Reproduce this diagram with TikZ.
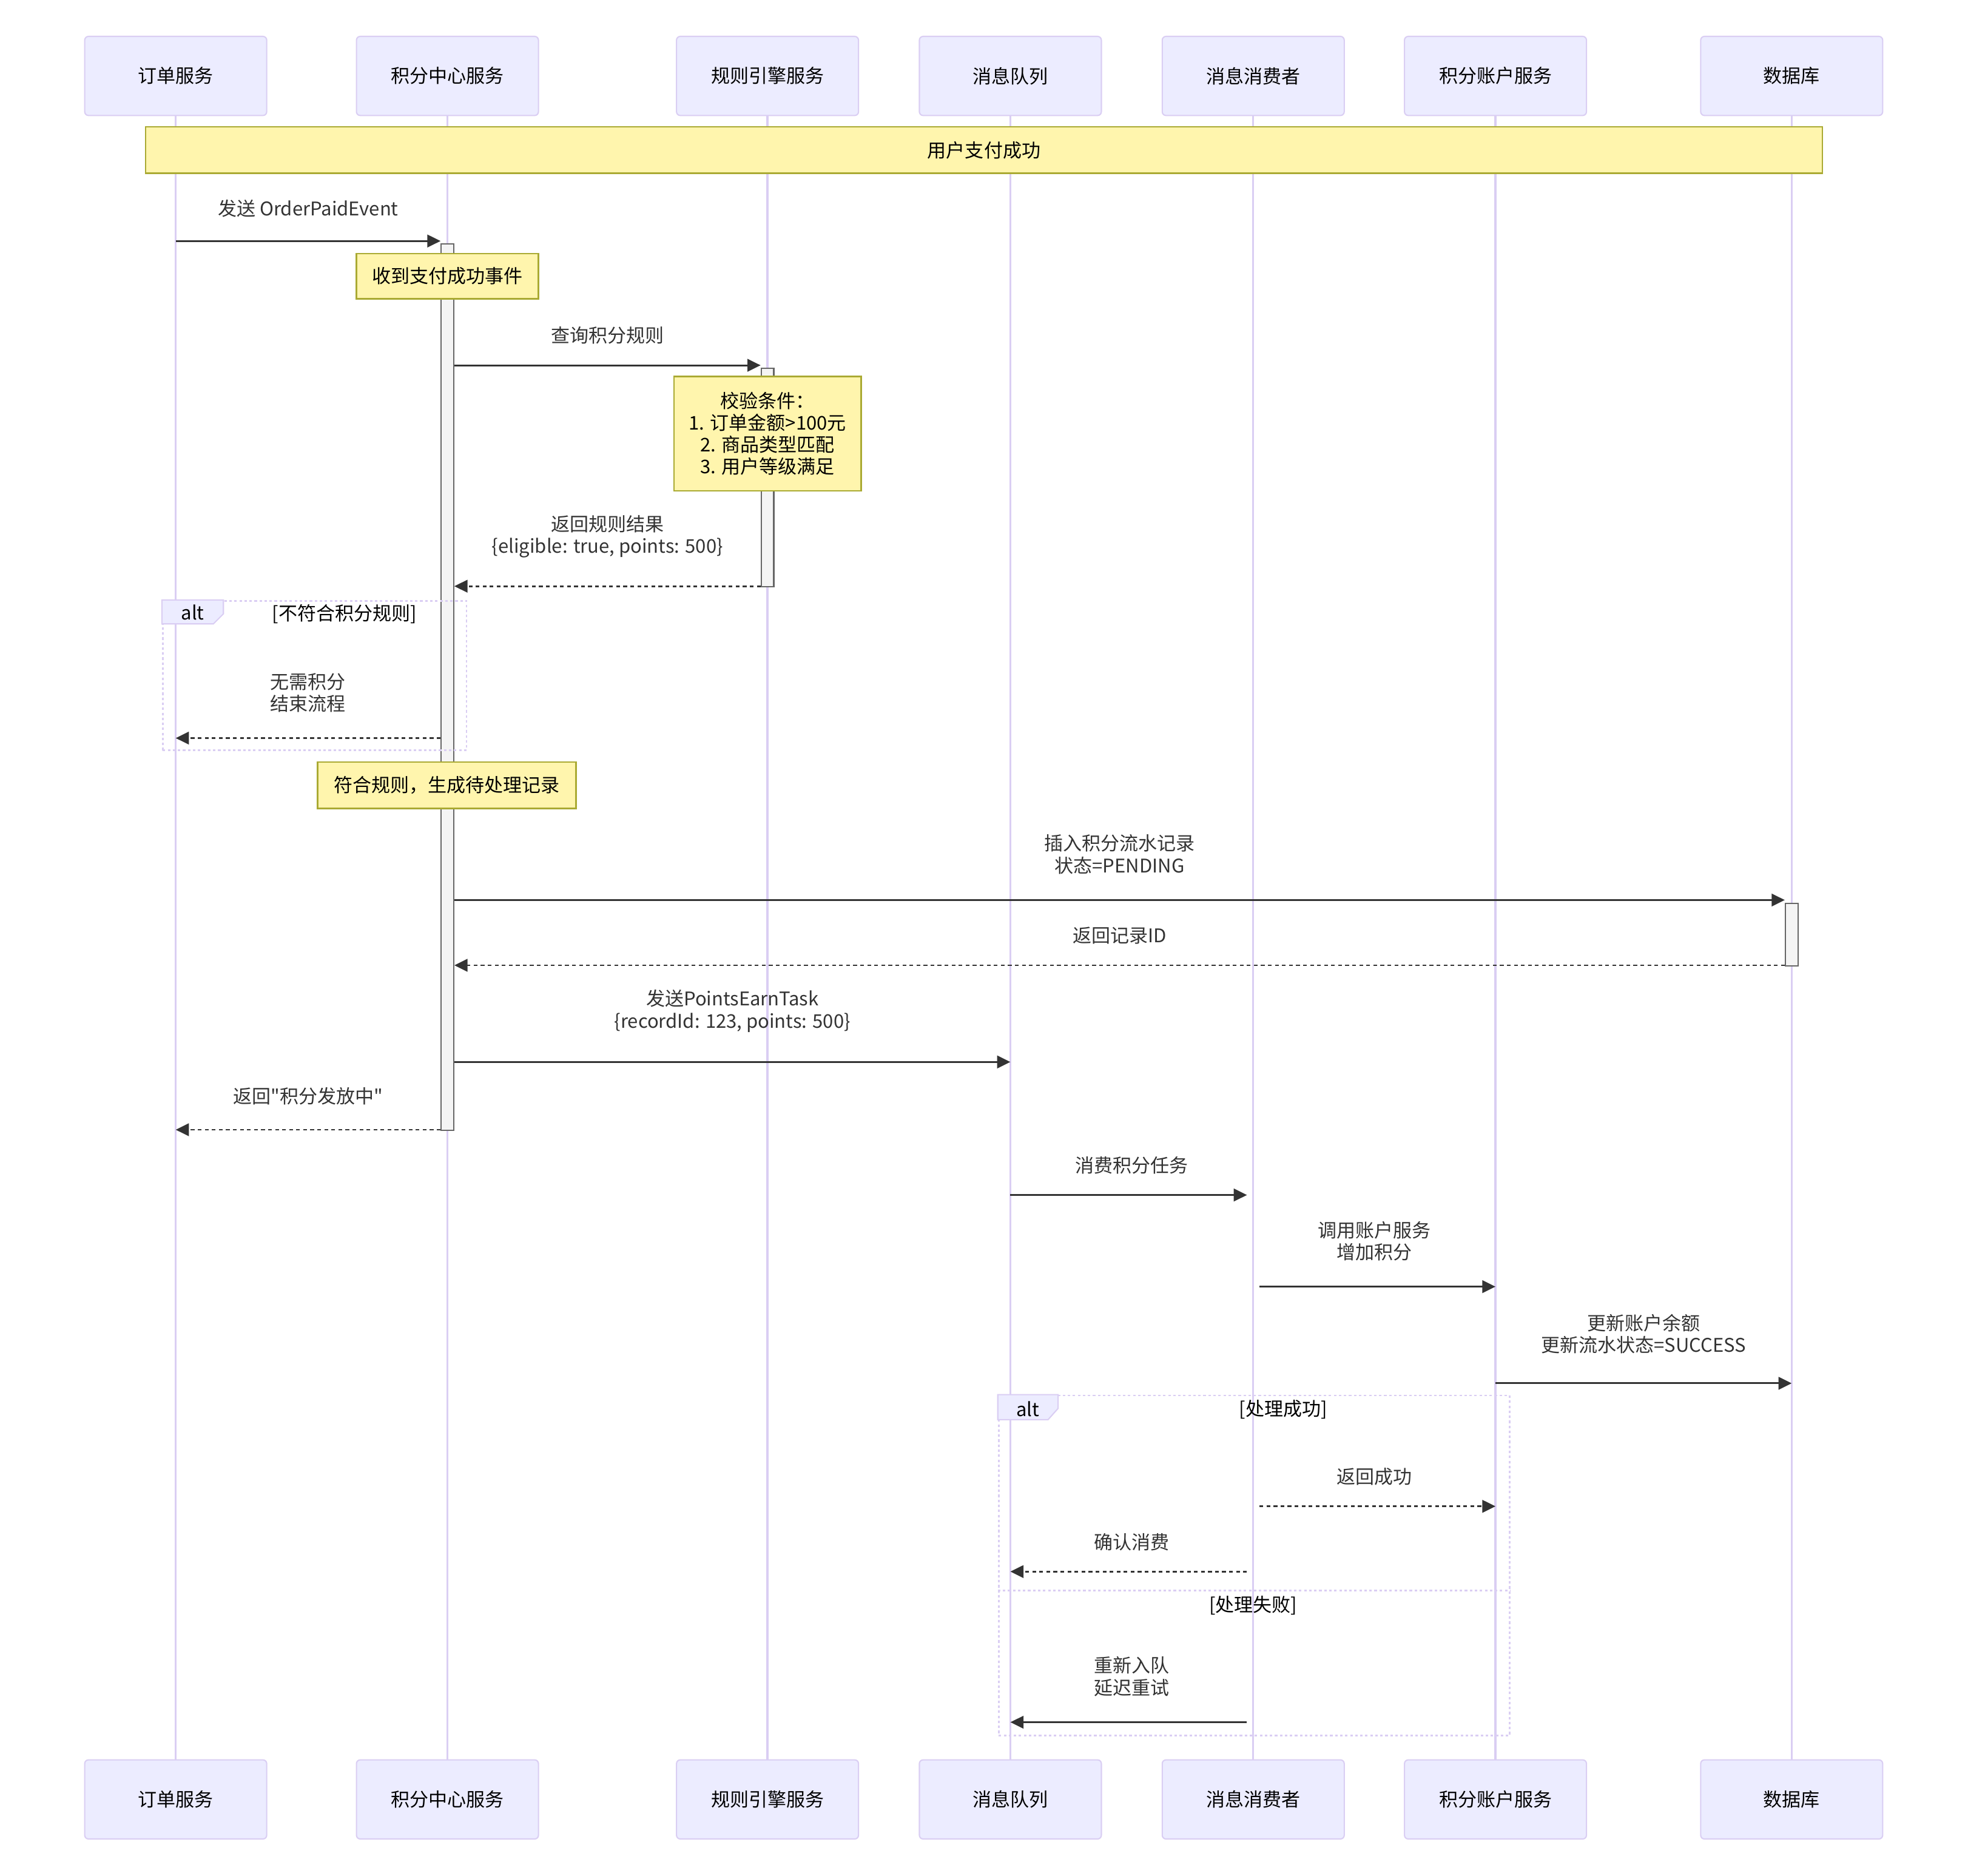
\documentclass[tikz,border=0pt]{standalone}
\usepackage{fontspec}
\setmainfont{Noto Sans CJK SC}
\newfontfamily\cjkfont{Noto Sans CJK SC}
\usepackage{xcolor}
\usetikzlibrary{positioning, arrows.meta}
\definecolor{actorfill}{HTML}{ECECFF}
\definecolor{actorline}{HTML}{DACEF3}
\definecolor{notefill}{HTML}{FFF5AD}
\definecolor{noteline}{HTML}{AAAA33}
\definecolor{actfill}{HTML}{F4F4F4}
\definecolor{actline}{HTML}{666666}
\definecolor{msgcol}{HTML}{333333}

\begin{document}
\begin{tikzpicture}[
        x=1pt, y=-1pt,
        every node/.style={font=\cjkfont\fontsize{15}{17.5}\selectfont},
        actor/.style={rectangle, rounded corners=3pt, draw=actorline, line width=1pt, fill=actorfill, minimum width=145pt, minimum height=63pt},
        lifeline/.style={draw=actorline, line width=1.6pt},
        note/.style={rectangle, draw=noteline, line width=1.2pt, fill=notefill, align=center, inner sep=0pt},
        actbar/.style={rectangle, draw=actline, line width=1pt, fill=actfill, minimum width=10pt, inner sep=0pt, anchor=north},
        msg/.style={draw=msgcol, line width=1.4pt, -{Triangle[length=10.5pt, width=10pt]}},
        reply/.style={msg, dash pattern=on 3pt off 2.6pt},
        lbl/.style={text=msgcol, align=center, inner sep=0pt, midway, above=#1},
        lbl/.default=16pt,
        altbox/.style={draw=actorline, line width=1.4pt, dash pattern=on 2pt off 2pt, inner sep=0pt, anchor=north west},
        alttab/.style={draw=actorline, line width=1pt, fill=actorfill},
    ]
        \fill[white] (0,0) rectangle (1568,1494.5);
        \useasboundingbox (0,0) rectangle (1568,1494.5);

        % Participants and lifelines
        \foreach \id/\x/\name in {ord/140/订单服务, pc/356.5/积分中心服务, re/611.5/规则引擎服务, mq/805/消息队列, cons/998.5/消息消费者, acc/1191.5/积分账户服务, db/1427.5/数据库} {
            \node[actor] (\id-top) at (\x,60.5) {\name};
            \node[actor] (\id-bot) at (\x,1433.5) {\name};
            \draw[lifeline] (\id-top) -- (\id-bot);
        }

        % Activations
        \node[actbar, minimum height=706pt] (pcAct) at (356.5,194) {};
        \node[actbar, minimum height=174pt] (reAct) at (611.5,293) {};
        \node[actbar, minimum height=50pt] (dbAct) at (1427.5,719) {};

        % Notes
        \node[note, minimum width=1336pt, minimum height=37pt] (paid) at (784,119.5) {用户支付成功};
        \node[note, minimum width=145pt, minimum height=36pt] (recv) at (356.5,220) {收到支付成功事件};
        \node[note, minimum width=149pt, minimum height=91pt] (check) at (611.5,345.5) {校验条件：\\1. 订单金额>100元\\2. 商品类型匹配\\3. 用户等级满足};
        \node[note, minimum width=206pt, minimum height=37pt] (match) at (356,625.5) {符合规则，生成待处理记录};

        % Alt blocks
        \node[altbox, minimum width=242pt, minimum height=119pt] (altA) at (129,478) {};
        \draw[alttab] (altA.north west) -- ++(49,0) -- ++(0,11) -- ++(-8,8) -- ++(-41,0) -- cycle;
        \node (altAtag) at (153.5,488) {alt};
        \node (altAcond) at (274.5,489) {[不符合积分规则]};

        \node[altbox, minimum width=407pt, minimum height=271pt] (altB) at (795,1111) {};
        \draw[alttab] (altB.north west) -- ++(48,0) -- ++(0,11) -- ++(-8,9) -- ++(-40,0) -- cycle;
        \node (altBtag) at (819,1122.5) {alt};
        \node (altBcond) at (1022.5,1123) {[处理成功]};
        \coordinate (sep) at (0,1267);
        \draw[altbox] (altB.west |- sep) -- (altB.east |- sep);
        \node (altBelse) at (998.5,1279) {[处理失败]};

        % Messages
        \coordinate (r1) at (0,192);
        \coordinate (r2) at (0,291);
        \coordinate (r3) at (0,467);
        \coordinate (r4) at (0,588);
        \coordinate (r5) at (0,717);
        \coordinate (r6) at (0,769);
        \coordinate (r7) at (0,846);
        \coordinate (r8) at (0,900);
        \coordinate (r9) at (0,952);
        \coordinate (r10) at (0,1025);
        \coordinate (r11) at (0,1102);
        \coordinate (r12) at (0,1200);
        \coordinate (r13) at (0,1252);
        \coordinate (r14) at (0,1372);

        \draw[msg] (ord-top |- r1) -- (pcAct.west |- r1) node[lbl=18pt] {发送 OrderPaidEvent};
        \draw[msg] (pcAct.east |- r2) -- (reAct.west |- r2) node[lbl] {查询积分规则};
        \draw[reply] (reAct.west |- r3) -- (pcAct.east |- r3) node[lbl=22pt] {返回规则结果\\\{eligible: true, points: 500\}};
        \draw[reply] (pcAct.west |- r4) -- (ord-top |- r4) node[lbl=20pt] {无需积分\\结束流程};
        \draw[msg] (pcAct.east |- r5) -- (dbAct.west |- r5) node[lbl=20pt] {插入积分流水记录\\状态=PENDING};
        \draw[reply] (dbAct.west |- r6) -- (pcAct.east |- r6) node[lbl] {返回记录ID};
        \draw[msg] (pcAct.east |- r7) -- (mq-top |- r7) node[lbl=23pt] {发送PointsEarnTask\\\{recordId: 123, points: 500\}};
        \draw[reply] (pcAct.west |- r8) -- (ord-top |- r8) node[lbl=19pt] {返回"积分发放中"};
        \draw[msg, shorten >=5pt] (mq-top |- r9) -- (cons-top |- r9) node[lbl] {消费积分任务};
        \draw[msg, shorten <=5pt] (cons-top |- r10) -- (acc-top |- r10) node[lbl=20pt] {调用账户服务\\增加积分};
        \draw[msg] (acc-top |- r11) -- (db-top |- r11) node[lbl=23pt] {更新账户余额\\更新流水状态=SUCCESS};
        \draw[reply, shorten <=5pt] (cons-top |- r12) -- (acc-top |- r12) node[lbl] {返回成功};
        \draw[reply, shorten <=5pt] (cons-top |- r13) -- (mq-top |- r13) node[lbl] {确认消费};
        \draw[msg, shorten <=5pt] (cons-top |- r14) -- (mq-top |- r14) node[lbl=20pt] {重新入队\\延迟重试};

    \end{tikzpicture}
\end{document}
